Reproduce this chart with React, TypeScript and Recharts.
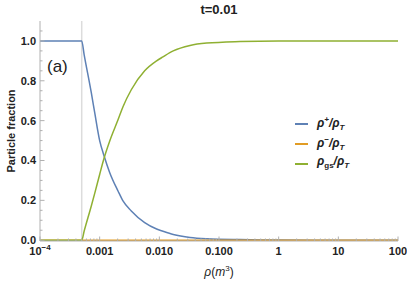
import { LineChart, Line, XAxis, YAxis, ReferenceLine, Legend } from 'recharts';

// rho values (log axis) and the three fractions
const rho = [1e-4, 5e-4, 5.5e-4, 7.24e-4, 8.26e-4, 1e-3, 1.18e-3, 1.47e-3, 2.03e-3, 2.46e-3, 3.39e-3, 5.68e-3, 9e-3, 0.0115, 0.0171, 0.0327, 0.0622, 0.225, 1, 10, 100];
const plusFrac = [1, 1, 0.93, 0.74, 0.64, 0.5, 0.425, 0.34, 0.247, 0.197, 0.147, 0.088, 0.056, 0.045, 0.029, 0.014, 0.0075, 0.003, 0.001, 0, 0];
const minusFrac = [0, 0, 0, 0, 0, 0, 0, 0, 0, 0, 0, 0, 0, 0, 0, 0, 0, 0, 0, 0, 0];
const gsFrac = [0, 0, 0.046, 0.172, 0.235, 0.33, 0.41, 0.497, 0.604, 0.67, 0.755, 0.85, 0.9, 0.92, 0.95, 0.977, 0.989, 0.997, 1, 1, 1];

const onset = 5e-4;

const xMajor = [1e-4, 1e-3, 1e-2, 1e-1, 1, 10, 100];
const xMajorLabels = ['10^-4', '0.001', '0.010', '0.100', '1', '10', '100'];
const xMinor = [
  2e-4, 3e-4, 4e-4, 5e-4, 6e-4, 7e-4, 8e-4, 9e-4,
  2e-3, 3e-3, 4e-3, 5e-3, 6e-3, 7e-3, 8e-3, 9e-3,
  2e-2, 3e-2, 4e-2, 5e-2, 6e-2, 7e-2, 8e-2, 9e-2,
  0.2, 0.3, 0.4, 0.5, 0.6, 0.7, 0.8, 0.9,
  2, 3, 4, 5, 6, 7, 8, 9,
  20, 30, 40, 50, 60, 70, 80, 90,
];
const yMajor = [0, 0.2, 0.4, 0.6, 0.8, 1.0];
const yMinor = [0.05, 0.1, 0.15, 0.25, 0.3, 0.35, 0.45, 0.5, 0.55, 0.65, 0.7, 0.75, 0.85, 0.9, 0.95, 1.05];

const seriesOrder = ['plus', 'minus', 'gs'];

const data = rho.map((x, i) => ({ x, plus: plusFrac[i], minus: minusFrac[i], gs: gsFrac[i] }));

const W = 407;
const H = 282;
const PL = 40;
const PR = 398;
const PT = 21;
const PB = 241;
const FRAME = '#b0b0b0';
const TXT = '#222';
const FONT = '"Liberation Sans", Arial, sans-serif';

const isMajorY = (v: number) => yMajor.some((m) => Math.abs(m - v) < 1e-9);
const isMajorX = (v: number) => xMajor.some((m) => Math.abs(m - v) / m < 1e-9);

function LeftTick(props: any) {
  const { y, payload } = props;
  const major = isMajorY(payload.value);
  return (
    <g>
      <line x1={PL} x2={PL + (major ? 4.5 : 2.5)} y1={y} y2={y} stroke={FRAME} />
      {major && (
        <text x={PL - 4} y={y} dy="0.36em" textAnchor="end" fontSize={11} fontWeight="bold" fill={TXT} fontFamily={FONT}>
          {payload.value.toFixed(1)}
        </text>
      )}
    </g>
  );
}

function RightTick(props: any) {
  const { y, payload } = props;
  const major = isMajorY(payload.value);
  return <line x1={PR} x2={PR - (major ? 4.5 : 2.5)} y1={y} y2={y} stroke={FRAME} />;
}

function BottomTick(props: any) {
  const { x, payload } = props;
  const idx = xMajor.findIndex((m) => Math.abs(m - payload.value) / m < 1e-9);
  const major = idx >= 0;
  const label = major ? xMajorLabels[idx] : '';
  return (
    <g>
      <line x1={x} x2={x} y1={PB} y2={PB - (major ? 4.5 : 2.5)} stroke={FRAME} />
      {major && (
        <text x={x} y={PB + 14} textAnchor="middle" fontSize={11} fontWeight="bold" fill={TXT} fontFamily={FONT}>
          {label.includes('^') ? (
            <>
              {label.split('^')[0]}
              <tspan dy={-5} fontSize={8}>{label.split('^')[1].replace('-', '\u2212')}</tspan>
            </>
          ) : (
            label
          )}
        </text>
      )}
    </g>
  );
}

function TopTick(props: any) {
  const { x, payload } = props;
  const major = isMajorX(payload.value);
  return <line x1={x} x2={x} y1={PT} y2={PT + (major ? 4.5 : 2.5)} stroke={FRAME} />;
}

const legendNames: Record<string, any> = {
  plus: (
    <>
      ρ<sup style={{ fontSize: 8 }}>+</sup>/ρ<sub style={{ fontSize: 8 }}>T</sub>
    </>
  ),
  minus: (
    <>
      ρ<sup style={{ fontSize: 8 }}>−</sup>/ρ<sub style={{ fontSize: 8 }}>T</sub>
    </>
  ),
  gs: (
    <>
      ρ<sub style={{ fontSize: 8, fontStyle: 'normal' }}>gs</sub>/ρ<sub style={{ fontSize: 8 }}>T</sub>
    </>
  ),
};

function LegendBox(props: any) {
  const items = [...(props.payload || [])].sort(
    (a: any, b: any) => seriesOrder.indexOf(a.dataKey) - seriesOrder.indexOf(b.dataKey),
  );
  return (
    <div style={{ fontFamily: FONT }}>
      {items.map((p: any) => (
        <div key={p.dataKey} style={{ display: 'flex', alignItems: 'center', height: 20 }}>
          <span style={{ display: 'inline-block', width: 13, height: 1.5, background: p.color, marginLeft: 3, marginRight: 9 }} />
          <span style={{ fontSize: 12, fontStyle: 'italic', fontWeight: 600, color: TXT, lineHeight: '12px' }}>
            {legendNames[p.dataKey]}
          </span>
        </div>
      ))}
    </div>
  );
}

export default function App() {
  return (
    <div style={{ position: 'absolute', left: 0, top: 0, width: W, height: H, background: '#fff' }}>
      <LineChart width={W} height={H} data={data} margin={{ top: PT, right: W - PR, bottom: 0, left: 0 }}>
        <XAxis
          dataKey="x"
          type="number"
          scale="log"
          domain={[1e-4, 100]}
          allowDataOverflow
          ticks={[...xMajor, ...xMinor]}
          interval={0}
          height={H - PB}
          tickLine={false}
          stroke={FRAME}
          tick={<BottomTick />}
          label={{
            content: () => (
              <text x={(PL + PR) / 2} y={276} textAnchor="middle" fontSize={12} fill={TXT} fontFamily={FONT}>
                <tspan fontStyle="italic">ρ</tspan>(<tspan fontStyle="italic">m</tspan>
                <tspan dy={-5} fontSize={8}>3</tspan>
                <tspan dy={5}>)</tspan>
              </text>
            ),
          }}
        />
        <XAxis
          xAxisId="top"
          orientation="top"
          dataKey="x"
          type="number"
          scale="log"
          domain={[1e-4, 100]}
          allowDataOverflow
          ticks={[...xMajor, ...xMinor]}
          interval={0}
          height={0}
          tickLine={false}
          stroke={FRAME}
          tick={<TopTick />}
        />
        <YAxis
          type="number"
          domain={[-0.004, 1.1]}
          allowDataOverflow
          ticks={[...yMajor, ...yMinor]}
          interval={0}
          width={PL}
          tickLine={false}
          stroke={FRAME}
          tick={<LeftTick />}
          label={{
            content: () => (
              <text transform={`translate(11, ${(PT + PB) / 2}) rotate(-90)`} textAnchor="middle" dy="0.35em" fontSize={11} fontWeight="bold" fill={TXT} fontFamily={FONT}>
                Particle fraction
              </text>
            ),
          }}
        />
        <YAxis
          yAxisId="right"
          orientation="right"
          type="number"
          domain={[-0.004, 1.1]}
          allowDataOverflow
          ticks={[...yMajor, ...yMinor]}
          interval={0}
          width={0}
          tickLine={false}
          stroke={FRAME}
          tick={<RightTick />}
        />
        <ReferenceLine x={onset} stroke="#dcdcdc" strokeWidth={1.5} />
        <Line type="monotone" dataKey="plus" name="plus" stroke="#5e81b5" strokeWidth={1.5} dot={false} isAnimationActive={false} />
        <Line type="monotone" dataKey="minus" name="minus" stroke="#e19c24" strokeWidth={1.5} dot={false} isAnimationActive={false} />
        <Line type="monotone" dataKey="gs" name="gs" stroke="#8fb032" strokeWidth={1.5} dot={false} isAnimationActive={false} />
        <Legend
          layout="vertical"
          align="center"
          verticalAlign="middle"
          content={<LegendBox />}
          wrapperStyle={{ position: 'absolute', left: 292, top: 114, width: 110 }}
        />
      </LineChart>
      <div style={{ position: 'absolute', left: PL, width: PR - PL, top: 2, textAlign: 'center', fontFamily: FONT, fontWeight: 'bold', fontSize: 13, color: TXT }}>
        t=0.01
      </div>
      <div style={{ position: 'absolute', left: 47, top: 57, fontFamily: FONT, fontSize: 17, color: TXT }}>(a)</div>
    </div>
  );
}
